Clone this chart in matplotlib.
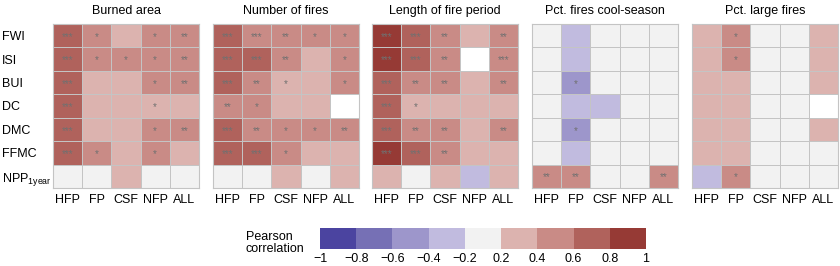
import matplotlib.pyplot as plt
import matplotlib as mpl
import numpy as np
from matplotlib.colors import ListedColormap, BoundaryNorm

plt.rcParams['font.family'] = ['Liberation Sans', 'DejaVu Sans']

nan = np.nan
rows = ['FWI', 'ISI', 'BUI', 'DC', 'DMC', 'FFMC', r'NPP$_{\mathregular{1year}}$']
cols = ['HFP', 'FP', 'CSF', 'NFP', 'ALL']
titles = ['Burned area', 'Number of fires', 'Length of fire period',
          'Pct. fires cool-season', 'Pct. large fires']

# correlation values (rows x cols)
burned_area = [[0.7, 0.5, 0.3, 0.5, 0.5],
               [0.7, 0.5, 0.5, 0.5, 0.5],
               [0.7, 0.3, 0.3, 0.5, 0.5],
               [0.7, 0.3, 0.3, 0.3, 0.3],
               [0.7, 0.3, 0.3, 0.5, 0.5],
               [0.7, 0.5, 0.3, 0.5, 0.3],
               [0.0, 0.0, 0.3, 0.0, 0.0]]
burned_sig = [['***', '*', '', '*', '**'],
              ['***', '*', '*', '*', '**'],
              ['***', '', '', '*', '**'],
              ['***', '', '', '*', ''],
              ['***', '', '', '*', '**'],
              ['***', '*', '', '*', ''],
              ['', '', '', '', '']]

n_fires = [[0.7, 0.5, 0.5, 0.5, 0.5],
           [0.7, 0.7, 0.5, 0.3, 0.5],
           [0.7, 0.5, 0.3, 0.3, 0.5],
           [0.5, 0.5, 0.3, 0.3, nan],
           [0.7, 0.5, 0.5, 0.5, 0.5],
           [0.7, 0.7, 0.5, 0.3, 0.3],
           [0.0, 0.0, 0.3, 0.0, 0.3]]
n_fires_sig = [['***', '***', '**', '*', '*'],
               ['***', '***', '**', '', '*'],
               ['***', '**', '*', '', '*'],
               ['**', '*', '', '', ''],
               ['***', '**', '*', '*', '**'],
               ['***', '***', '*', '', ''],
               ['', '', '', '', '']]

fire_period = [[0.9, 0.7, 0.5, 0.3, 0.5],
               [0.9, 0.7, 0.5, nan, 0.5],
               [0.7, 0.5, 0.5, 0.3, 0.5],
               [0.7, 0.3, 0.3, 0.3, 0.3],
               [0.7, 0.5, 0.5, 0.3, 0.5],
               [0.9, 0.7, 0.5, 0.3, 0.3],
               [0.3, 0.0, 0.3, -0.3, 0.3]]
fire_period_sig = [['***', '***', '**', '', '**'],
                   ['***', '***', '**', '', '***'],
                   ['***', '**', '**', '', '**'],
                   ['***', '*', '', '', ''],
                   ['***', '**', '**', '', '**'],
                   ['***', '***', '**', '', ''],
                   ['', '', '', '', '']]

cool_season = [[0.0, -0.3, 0.0, 0.0, 0.0],
               [0.0, -0.3, 0.0, 0.0, 0.0],
               [0.0, -0.5, 0.0, 0.0, 0.0],
               [0.0, -0.3, -0.3, 0.0, 0.0],
               [0.0, -0.5, 0.0, 0.0, 0.0],
               [0.0, -0.3, 0.0, 0.0, 0.0],
               [0.5, 0.5, 0.0, 0.0, 0.5]]
cool_season_sig = [['', '', '', '', ''],
                   ['', '', '', '', ''],
                   ['', '*', '', '', ''],
                   ['', '', '', '', ''],
                   ['', '*', '', '', ''],
                   ['', '', '', '', ''],
                   ['**', '**', '', '', '**']]

large_fires = [[0.3, 0.5, 0.0, 0.0, 0.3],
               [0.3, 0.5, 0.0, 0.0, 0.3],
               [0.3, 0.3, 0.0, 0.0, 0.3],
               [0.3, 0.3, 0.0, 0.0, nan],
               [0.3, 0.3, 0.0, 0.0, 0.3],
               [0.3, 0.3, 0.0, 0.0, 0.0],
               [-0.3, 0.5, 0.0, 0.0, 0.0]]
large_fires_sig = [['', '*', '', '', ''],
                   ['', '*', '', '', ''],
                   ['', '', '', '', ''],
                   ['', '', '', '', ''],
                   ['', '', '', '', ''],
                   ['', '', '', '', ''],
                   ['', '*', '', '', '']]

panels = [(burned_area, burned_sig), (n_fires, n_fires_sig),
          (fire_period, fire_period_sig), (cool_season, cool_season_sig),
          (large_fires, large_fires_sig)]

bounds = [-1, -0.8, -0.6, -0.4, -0.2, 0.2, 0.4, 0.6, 0.8, 1]
bound_labels = ['\u22121', '\u22120.8', '\u22120.6', '\u22120.4', '\u22120.2',
                '0.2', '0.4', '0.6', '0.8', '1']
colors = ['#4b44a0', '#7670b5', '#9d96cb', '#c1bbdf', '#f2f2f2',
          '#dcb3af', '#c98b86', '#b0625c', '#963a35']
cmap = ListedColormap(colors)
cmap.set_bad('white')
norm = BoundaryNorm(bounds, cmap.N)

W, H = 840, 266
fig = plt.figure(figsize=(8.4, 2.66), dpi=100)

lefts = [53, 213, 372, 532, 692]
top, bottom, width = 24, 188, 146

for i, (vals, sig) in enumerate(panels):
    ax = fig.add_axes([lefts[i] / W, 1 - bottom / H, width / W, (bottom - top) / H])
    data = np.ma.masked_invalid(np.array(vals, dtype=float))
    ax.pcolormesh(data, cmap=cmap, norm=norm, edgecolors='#c4c4c4', linewidth=0.6)
    for r in range(len(rows)):
        for c in range(len(cols)):
            if sig[r][c]:
                ax.text(c + 0.5, r + 0.55, sig[r][c], ha='center', va='center',
                        fontsize=7, color='#707070')
    ax.set_xlim(0, len(cols))
    ax.set_ylim(len(rows), 0)
    ax.set_xticks(np.arange(len(cols)) + 0.5)
    ax.set_xticklabels(cols, fontsize=9)
    ax.tick_params(length=0, pad=4)
    if i == 0:
        ax.set_yticks(np.arange(len(rows)) + 0.5)
        ax.set_yticklabels(rows, fontsize=9, ha='left')
        ax.tick_params(axis='y', pad=37)
    else:
        ax.set_yticks([])
    for s in ax.spines.values():
        s.set_color('#c4c4c4')
        s.set_linewidth(0.8)
    ax.set_title(titles[i], fontsize=9, pad=7)

# colorbar
cax = fig.add_axes([320 / W, 1 - 249 / H, 326 / W, 21 / H])
cb = mpl.colorbar.ColorbarBase(cax, cmap=ListedColormap(colors), norm=norm,
                               boundaries=bounds, spacing='uniform',
                               orientation='horizontal', ticks=bounds)
cb.set_ticklabels(bound_labels)
cb.outline.set_visible(False)
cax.tick_params(length=0, labelsize=9, pad=3)
fig.text(246 / W, 1 - 243 / H, 'Pearson\ncorrelation', fontsize=9,
         ha='left', va='center', linespacing=1.1)

fig.savefig('out.png', dpi=100)
